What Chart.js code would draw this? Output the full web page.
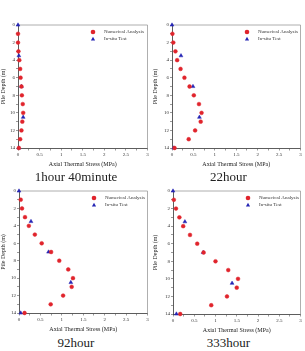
<!DOCTYPE html>
<html>
<head>
<meta charset="utf-8">
<script src="https://cdn.jsdelivr.net/npm/chart.js@4/dist/chart.umd.min.js"></script>
<style>
  body { margin: 0; background: #fff; width: 305px; height: 351px; position: relative; overflow: hidden; }
  canvas { position: absolute; }
  .cap { position: absolute; font-family: "Liberation Serif", serif; font-size: 13px; color: #222; text-align: center; line-height: 14px; }
</style>
</head>
<body>
<canvas id="c1" width="152" height="168" style="left:0;top:0"></canvas>
<canvas id="c2" width="153" height="168" style="left:152px;top:0"></canvas>
<canvas id="c3" width="152" height="158" style="left:0;top:175px"></canvas>
<canvas id="c4" width="153" height="159" style="left:152px;top:175px"></canvas>
<div class="cap" style="left:0;width:152px;top:170px">1hour 40minute</div>
<div class="cap" style="left:152px;width:153px;top:170px">22hour</div>
<div class="cap" style="left:0;width:152px;top:336px">92hour</div>
<div class="cap" style="left:152px;width:153px;top:336px">333hour</div>
<script>
// depths (m)
const numDepth = [1, 2, 3, 4, 5, 6, 7, 8, 9, 10, 11, 12, 13, 14];
const testDepth = [0, 3.5, 7, 10.5, 14];

// axial thermal stress (MPa)
const num1 = [0, 0, 0.01, 0.03, 0.05, 0.06, 0.08, 0.09, 0.11, 0.12, 0.1, 0.08, 0.05, 0.02];
const test1 = [0, 0.02, 0.08, 0.12, 0.02];
const num2 = [0.01, 0.03, 0.08, 0.12, 0.2, 0.29, 0.41, 0.51, 0.63, 0.69, 0.67, 0.54, 0.39, 0.06];
const test2 = [0, 0.21, 0.49, 0.64, 0.04];
const num3 = [0.04, 0.07, 0.14, 0.23, 0.37, 0.53, 0.75, 0.94, 1.15, 1.26, 1.23, 1.03, 0.74, 0.13];
const test3 = [0, 0.28, 0.69, 1.21, 0.04];
const num4 = [0.02, 0.07, 0.15, 0.24, 0.4, 0.57, 0.72, 1.0, 1.3, 1.53, 1.5, 1.27, 0.9, 0.17];
const test4 = [0, 0.28, 0.71, 1.39, 0.08];

const seriesNames = ['Numerical Analysis', 'In-situ Test'];
const RED = '#e0242c';
const BLUE = '#2424b4';
const FONT = 'Liberation Serif';

function pts(xs, ys) {
    return xs.map((v, i) => ({ x: v, y: ys[i] }));
}

// gray frame on top/right, plus the legend inside the plot
const framePlugin = {
    id: 'frame',
    beforeDatasetsDraw(chart) {
        const a = chart.chartArea, ctx = chart.ctx;
        ctx.save();
        ctx.strokeStyle = '#9a9a9a';
        ctx.lineWidth = 0.8;
        ctx.beginPath();
        ctx.moveTo(a.left, a.top);
        ctx.lineTo(a.right, a.top);
        ctx.lineTo(a.right, a.bottom);
        ctx.stroke();
        ctx.restore();
    },
    afterDraw(chart) {
        const a = chart.chartArea, ctx = chart.ctx;
        const mx = a.left + 75, tx = a.left + 86;
        ctx.save();
        ctx.font = '5px "' + FONT + '"';
        ctx.textBaseline = 'middle';
        // circle
        let y = a.top + 7;
        ctx.fillStyle = RED;
        ctx.beginPath();
        ctx.arc(mx, y, 2.3, 0, Math.PI * 2);
        ctx.fill();
        ctx.fillStyle = '#333';
        ctx.fillText(seriesNames[0], tx, y);
        // triangle
        y = a.top + 14;
        ctx.fillStyle = BLUE;
        ctx.beginPath();
        ctx.moveTo(mx, y - 2.2);
        ctx.lineTo(mx + 2.1, y + 1.5);
        ctx.lineTo(mx - 2.1, y + 1.5);
        ctx.closePath();
        ctx.fill();
        ctx.fillStyle = '#333';
        ctx.fillText(seriesNames[1], tx, y);
        ctx.restore();
    }
};

function makeChart(id, num, test, yWidth, padTop, padRight) {
    return new Chart(document.getElementById(id), {
        type: 'scatter',
        data: {
            datasets: [{
                label: seriesNames[0],
                data: pts(num, numDepth),
                pointStyle: 'circle',
                pointRadius: 1.9,
                backgroundColor: RED,
                borderColor: RED,
                borderWidth: 0.5,
                clip: false
            }, {
                label: seriesNames[1],
                data: pts(test, testDepth),
                pointStyle: 'triangle',
                pointRadius: 2.2,
                backgroundColor: BLUE,
                borderColor: BLUE,
                borderWidth: 0.5,
                clip: false
            }]
        },
        options: {
            responsive: false,
            animation: false,
            devicePixelRatio: 1,
            layout: { padding: { top: padTop, right: padRight, left: 0, bottom: 0 } },
            plugins: {
                legend: { display: false },
                tooltip: { enabled: false }
            },
            scales: {
                x: {
                    min: 0,
                    max: 3,
                    afterFit: (s) => { s.height = 20; },
                    ticks: {
                        stepSize: 0.25,
                        autoSkip: false,
                        maxRotation: 0,
                        padding: 1.5,
                        color: '#333',
                        font: { family: FONT, size: 5 },
                        callback: (v) => Math.abs(v * 2 - Math.round(v * 2)) < 1e-6 ? String(v) : ''
                    },
                    grid: { drawOnChartArea: false, tickLength: 2.5, color: '#555', lineWidth: 0.6 },
                    border: { color: '#333', width: 0.8 },
                    title: {
                        display: true,
                        text: 'Axial Thermal Stress (MPa)',
                        color: '#222',
                        padding: 0,
                        font: { family: FONT, size: 6 }
                    }
                },
                y: {
                    min: 0,
                    max: 14,
                    reverse: true,
                    afterFit: (s) => { s.width = yWidth; },
                    ticks: {
                        stepSize: 1,
                        autoSkip: false,
                        padding: 1,
                        color: '#333',
                        font: { family: FONT, size: 5 },
                        callback: (v) => v % 2 === 0 ? String(v) : ''
                    },
                    grid: { drawOnChartArea: false, tickLength: 2, color: '#555', lineWidth: 0.6 },
                    border: { color: '#333', width: 0.8 },
                    title: {
                        display: true,
                        text: 'Pile Depth (m)',
                        color: '#222',
                        padding: 0,
                        font: { family: FONT, size: 6 }
                    }
                }
            }
        },
        plugins: [framePlugin]
    });
}

// === display charts ===
makeChart('c1', num1, test1, 18, 25, 3);
makeChart('c2', num2, test2, 20, 25, 2);
makeChart('c3', num3, test3, 19, 16, 3);
makeChart('c4', num4, test4, 21, 16, 2);
</script>
</body>
</html>
